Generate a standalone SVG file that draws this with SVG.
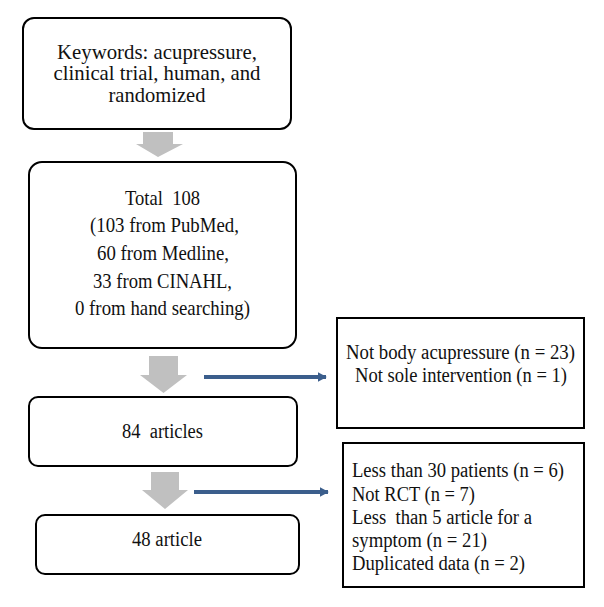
<svg xmlns="http://www.w3.org/2000/svg" width="604" height="607" viewBox="0 0 604 607">
<style>
.box{fill:#fff;stroke:#000;stroke-width:2}
.t{font-family:"Liberation Serif","Times New Roman",serif;fill:#111}
.c{text-anchor:middle}
.gray{fill:#c0c0c0}
.blue{stroke:#3b5e8c;stroke-width:4;fill:none}
</style>
<defs>
<marker id="ah" markerWidth="4" markerHeight="4" refX="2" refY="2" orient="auto" markerUnits="strokeWidth">
<path d="M0,0.8 L2.2,2 L0,3.2 Z" fill="#3b5e8c"/>
</marker>
</defs>
<rect width="604" height="607" fill="#fff"/>
<g id="connectors">
<path class="gray" d="M143,132 H173 V144 H183 L158,157 L136,144 H143 Z"/>
<path class="gray" d="M149,356 H178 V375 H187 L163.5,393 L140,375 H149 Z"/>
<path class="gray" d="M151,472 H179 V490 H188 L165,509 L142,490 H151 Z"/>
<line class="blue" x1="204" y1="377" x2="326" y2="377" marker-end="url(#ah)"/>
<line class="blue" x1="194" y1="492" x2="328" y2="492" marker-end="url(#ah)"/>
</g>
<g id="keywords">
<rect class="box" x="23" y="18" width="268" height="111" rx="11"/>
<text class="t c" font-size="22" x="157" y="59" textLength="200" lengthAdjust="spacingAndGlyphs">Keywords: acupressure,</text>
<text class="t c" font-size="22" x="157" y="80" textLength="207" lengthAdjust="spacingAndGlyphs">clinical trial, human, and</text>
<text class="t c" font-size="22" x="157" y="101.5" textLength="97" lengthAdjust="spacingAndGlyphs">randomized</text>
</g>
<g id="total">
<rect class="box" x="29" y="162" width="267" height="186" rx="13"/>
<text class="t c" font-size="21" x="162.5" y="205" textLength="75" lengthAdjust="spacingAndGlyphs" xml:space="preserve">Total  108</text>
<text class="t c" font-size="21" x="164.5" y="232" textLength="149" lengthAdjust="spacingAndGlyphs">(103 from PubMed,</text>
<text class="t c" font-size="21" x="163" y="260" textLength="132" lengthAdjust="spacingAndGlyphs">60 from Medline,</text>
<text class="t c" font-size="21" x="162.5" y="288" textLength="139" lengthAdjust="spacingAndGlyphs">33 from CINAHL,</text>
<text class="t c" font-size="21" x="162.5" y="315" textLength="175" lengthAdjust="spacingAndGlyphs">0 from hand searching)</text>
</g>
<g id="articles84">
<rect class="box" x="29" y="397" width="268" height="69" rx="9"/>
<text class="t c" font-size="20" x="162.5" y="438" textLength="81" lengthAdjust="spacingAndGlyphs" xml:space="preserve">84  articles</text>
</g>
<g id="article48">
<rect class="box" x="36" y="515" width="263" height="59" rx="9"/>
<text class="t c" font-size="20" x="167" y="546" textLength="70" lengthAdjust="spacingAndGlyphs">48 article</text>
</g>
<g id="exclude1">
<rect class="box" x="337" y="318" width="247" height="110"/>
<text class="t c" font-size="20" x="460.5" y="359" textLength="229" lengthAdjust="spacingAndGlyphs">Not body acupressure (n = 23)</text>
<text class="t c" font-size="20" x="461" y="382" textLength="212" lengthAdjust="spacingAndGlyphs">Not sole intervention (n = 1)</text>
</g>
<g id="exclude2">
<rect class="box" x="343" y="443" width="241" height="144"/>
<text class="t" font-size="20" x="352" y="477" textLength="212" lengthAdjust="spacingAndGlyphs">Less than 30 patients (n = 6)</text>
<text class="t" font-size="20" x="352" y="500.5" textLength="123" lengthAdjust="spacingAndGlyphs">Not RCT (n = 7)</text>
<text class="t" font-size="20" x="352" y="523.5" textLength="180" lengthAdjust="spacingAndGlyphs" xml:space="preserve">Less  than 5 article for a</text>
<text class="t" font-size="20" x="352" y="546.5" textLength="135" lengthAdjust="spacingAndGlyphs">symptom (n = 21)</text>
<text class="t" font-size="20" x="352" y="569.5" textLength="173" lengthAdjust="spacingAndGlyphs">Duplicated data (n = 2)</text>
</g>
</svg>
